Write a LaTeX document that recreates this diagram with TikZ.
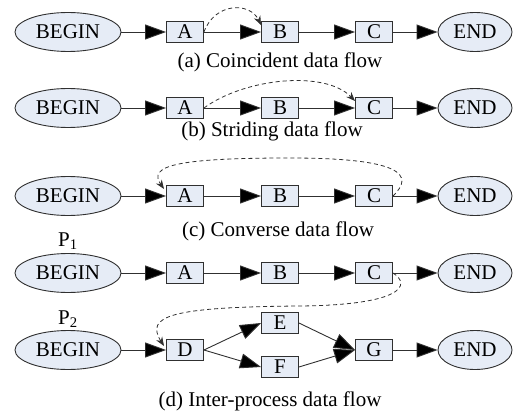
\documentclass[tikz,border=0pt]{standalone}
\usepackage{fontspec}
\setmainfont{Liberation Serif}
\usetikzlibrary{arrows.meta,shapes.geometric}
\definecolor{boxfill}{HTML}{E6ECF6}
\definecolor{edge}{HTML}{303030}
\begin{document}
\begin{tikzpicture}[x=1pt,y=-1pt,
  font=\fontsize{21}{25}\selectfont,
  stepbox/.style={draw=edge,fill=boxfill,line width=0.9pt,minimum width=37pt,minimum height=21pt,inner sep=0pt},
  terminal/.style={ellipse,draw=edge,fill=boxfill,line width=0.9pt,minimum height=39pt,inner sep=0pt},
  startnode/.style={terminal,minimum width=106pt},
  endnode/.style={terminal,minimum width=74pt},
  flow/.style={draw=edge,line width=0.9pt,-{Triangle[length=21pt,width=15pt,fill=black]}},
  dataflow/.style={draw=edge,line width=0.8pt,dashed,dash pattern=on 4pt off 3pt,-{Stealth[length=9pt,width=7pt]}},
  caption/.style={inner sep=0pt}]
\useasboundingbox (0,0) rectangle (513,414);

% (a) coincident
\node[startnode] (a0) at (68,32) {BEGIN};
\node[stepbox] (aA) at (185,32) {A};
\node[stepbox] (aB) at (280,32) {B};
\node[stepbox] (aC) at (374,32) {C};
\node[endnode] (aE) at (475,32) {END};
\draw[flow] (a0) -- (aA);
\draw[flow] (aA) -- (aB);
\draw[flow] (aB) -- (aC);
\draw[flow] (aC) -- (aE);
\coordinate (aT) at (261,25);
\draw[dataflow] (aA.east) .. controls (215,2) and (250,2) .. (aT);
\node[caption] (capa) at (280,62) {(a) Coincident data flow};

% (b) striding
\node[startnode] (b0) at (68,108) {BEGIN};
\node[stepbox] (bA) at (185,108) {A};
\node[stepbox] (bB) at (280,108) {B};
\node[stepbox] (bC) at (374,108) {C};
\node[endnode] (bE) at (475,108) {END};
\draw[flow] (b0) -- (bA);
\draw[flow] (bA) -- (bB);
\draw[flow] (bB) -- (bC);
\draw[flow] (bC) -- (bE);
\coordinate (bT) at (355,101);
\draw[dataflow] (bA.east) .. controls (245,78) and (325,70) .. (bT);
\node[caption] (capb) at (272,131) {(b) Striding data flow};

% (c) converse
\node[startnode] (c0) at (68,196) {BEGIN};
\node[stepbox] (cA) at (185,196) {A};
\node[stepbox] (cB) at (280,196) {B};
\node[stepbox] (cC) at (374,196) {C};
\node[endnode] (cE) at (475,196) {END};
\draw[flow] (c0) -- (cA);
\draw[flow] (cA) -- (cB);
\draw[flow] (cB) -- (cC);
\draw[flow] (cC) -- (cE);
\coordinate (cT) at (164,189);
\draw[dataflow] (cC.east) .. controls (415,175) and (402,158) .. (290,158)
  .. controls (175,158) and (148,166) .. (cT);
\node[caption] (capc) at (278,231) {(c) Converse data flow};

% (d) inter-process
\node[startnode] (p0) at (68,273) {BEGIN};
\node (p1) at (68,241) {P\textsubscript{1}};
\node[stepbox] (pA) at (185,273) {A};
\node[stepbox] (pB) at (280,273) {B};
\node[stepbox] (pC) at (374,273) {C};
\node[endnode] (pE) at (475,273) {END};
\draw[flow] (p0) -- (pA);
\draw[flow] (pA) -- (pB);
\draw[flow] (pB) -- (pC);
\draw[flow] (pC) -- (pE);

\node[startnode] (q0) at (68,350) {BEGIN};
\node (p2) at (68,319) {P\textsubscript{2}};
\node[stepbox] (qD) at (185,350) {D};
\node[stepbox] (qE) at (280,323) {E};
\node[stepbox] (qF) at (280,367) {F};
\node[stepbox] (qG) at (374,350) {G};
\node[endnode] (qX) at (475,350) {END};
\draw[flow] (q0) -- (qD);
\draw[flow] (qD.east) -- (qE.west);
\draw[flow] (qD.east) -- (qF.west);
\draw[flow] (qE.east) -- (qG.west);
\draw[flow] (qF.east) -- (qG.west);
\draw[flow] (qG) -- (qX);
\coordinate (dT) at (164,346);
\draw[dataflow] (pC.east) .. controls (412,285) and (402,305) .. (300,306)
  .. controls (170,307) and (145,316) .. (dT);
\node[caption] (capd) at (270,401) {(d) Inter-process data flow};
\end{tikzpicture}
\end{document}
